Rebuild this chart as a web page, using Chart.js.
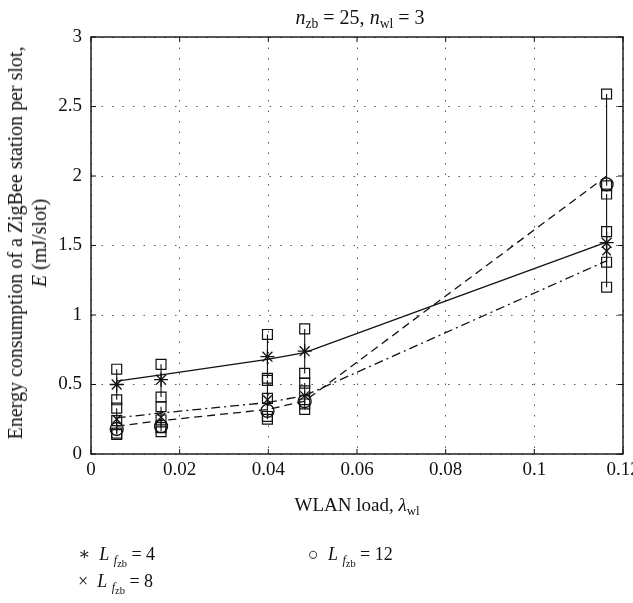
<!DOCTYPE html>
<html>
<head>
<meta charset="utf-8">
<script src="https://cdn.jsdelivr.net/npm/chart.js@4/dist/chart.umd.min.js"></script>
<style>
  body { margin: 0; background: #fff; }
  #wrap { position: relative; width: 633px; height: 603px; overflow: hidden;
          font-family: "Liberation Serif", "DejaVu Serif", serif; color: #111; }
  canvas { position: absolute; left: 0; top: 0; }
  .lbl { position: absolute; white-space: nowrap; font-size: 18px; line-height: 1; }
  .lbl sub { font-size: 68%; vertical-align: -0.3em; line-height: 0; }
  .lbl sub sub { font-size: 85%; }
  #ytitle { left: 27px; top: 243px; text-align: center; line-height: 24px; font-size: 20px;
            transform: translate(-50%, -50%) rotate(-90deg); }
</style>
</head>
<body>
<div id="wrap">
  <canvas id="chart" width="633" height="603"></canvas>
  <div class="lbl" id="title" style="left:360px; top:7px; font-size:20px; transform:translateX(-50%)"><i>n</i><sub>zb</sub> = 25, <i>n</i><sub>wl</sub> = 3</div>
  <div class="lbl" id="xtitle" style="left:357px; top:495px; font-size:19px; transform:translateX(-50%)">WLAN load, <i>λ</i><sub>wl</sub></div>
  <div class="lbl" id="ytitle">Energy consumption of a ZigBee station per slot,<br><i>E</i> (mJ/slot)</div>
  <div class="lbl" style="left:78px; top:545px">∗&nbsp; <i>L</i> <sub><i>f</i><sub>zb</sub></sub> = 4</div>
  <div class="lbl" style="left:78px; top:572px">×&nbsp; <i>L</i> <sub><i>f</i><sub>zb</sub></sub> = 8</div>
  <div class="lbl" style="left:308px; top:545px">○&nbsp; <i>L</i> <sub><i>f</i><sub>zb</sub></sub> = 12</div>
</div>
<script>
// ── Data ─────────────────────────────────────────────────────
const loads = [0.0058, 0.0158, 0.0398, 0.0482, 0.1163];

// analytical curves
const modelL4  = [0.525, 0.57, 0.68, 0.73, 1.525];
const modelL8  = [0.26, 0.295, 0.37, 0.42, 1.39];
const modelL12 = [0.20, 0.24, 0.32, 0.38, 2.00];

// simulation means and confidence bounds
const simL4   = [0.50, 0.535, 0.70, 0.74, 1.52];
const lowL4   = [0.39, 0.41, 0.545, 0.58, 1.38];
const upL4    = [0.61, 0.645, 0.86, 0.90, 1.60];

const simL8   = [0.25, 0.265, 0.39, 0.42, 1.46];
const lowL8   = [0.15, 0.19, 0.27, 0.36, 1.20];
const upL8    = [0.33, 0.34, 0.53, 0.51, 1.87];

const simL12  = [0.18, 0.20, 0.31, 0.38, 1.94];
const lowL12  = [0.14, 0.16, 0.25, 0.32, 1.93];
const upL12   = [0.24, 0.245, 0.40, 0.455, 2.59];

const xTickLabels = ['0', '0.02', '0.04', '0.06', '0.08', '0.1', '0.12'];
const yTickLabels = ['0', '0.5', '1', '1.5', '2', '2.5', '3'];

// ── Helpers ──────────────────────────────────────────────────
const INK = '#111';
const pts = ys => loads.map((x, i) => ({ x, y: ys[i] }));

function errorBars(lo, hi) {
  const out = [];
  loads.forEach((x, i) => {
    out.push({ x, y: lo[i] }, { x, y: hi[i] }, { x, y: null });
  });
  return out;
}

function modelLine(ys, dash) {
  return {
    data: pts(ys), showLine: true, borderColor: INK, borderWidth: 1.3,
    borderDash: dash, pointRadius: 0, fill: false,
  };
}

function barSet(lo, hi) {
  return {
    data: errorBars(lo, hi), showLine: true, spanGaps: false,
    borderColor: INK, borderWidth: 1.1,
    pointStyle: 'rect', pointRadius: 7, pointBorderWidth: 1.2,
    pointBorderColor: INK, pointBackgroundColor: 'rgba(255,255,255,0)',
  };
}

function meanSet(ys, style, r) {
  return {
    data: pts(ys), showLine: false, pointStyle: style, pointRadius: r,
    pointBorderColor: INK, pointBorderWidth: 1.3,
    pointBackgroundColor: 'rgba(255,255,255,0)',
  };
}

// frame + inward tick marks, matlab style
const framePlugin = {
  id: 'frame',
  afterDatasetsDraw(chart) {
    const { ctx, chartArea: a, scales: { x, y } } = chart;
    ctx.save();
    ctx.strokeStyle = INK;
    ctx.lineWidth = 1.4;
    ctx.strokeRect(a.left, a.top, a.right - a.left, a.bottom - a.top);
    ctx.lineWidth = 1;
    ctx.beginPath();
    x.ticks.forEach(t => {
      const px = x.getPixelForValue(t.value);
      ctx.moveTo(px, a.bottom); ctx.lineTo(px, a.bottom - 5);
      ctx.moveTo(px, a.top);    ctx.lineTo(px, a.top + 5);
    });
    y.ticks.forEach(t => {
      const py = y.getPixelForValue(t.value);
      ctx.moveTo(a.left, py);  ctx.lineTo(a.left + 5, py);
      ctx.moveTo(a.right, py); ctx.lineTo(a.right - 5, py);
    });
    ctx.stroke();
    ctx.restore();
  },
};

const tickFont = { family: '"Liberation Serif", "DejaVu Serif", serif', size: 19 };
const gridOpts = { color: '#555', lineWidth: 1, drawTicks: false };
const borderOpts = { display: false, dash: [1.5, 9] };

new Chart(document.getElementById('chart'), {
  type: 'scatter',
  data: {
    datasets: [
      meanSet(simL4, 'star', 7),
      meanSet(simL8, 'crossRot', 6),
      meanSet(simL12, 'circle', 6.5),
      barSet(lowL4, upL4),
      barSet(lowL8, upL8),
      barSet(lowL12, upL12),
      modelLine(modelL4, []),
      modelLine(modelL8, [9, 4, 2, 4]),
      modelLine(modelL12, [8, 5]),
    ],
  },
  options: {
    responsive: false,
    animation: false,
    layout: { padding: { top: 37, right: 10, left: 0, bottom: 0 } },
    plugins: { legend: { display: false }, tooltip: { enabled: false } },
    scales: {
      x: {
        min: 0, max: 0.12,
        ticks: {
          stepSize: 0.02, color: INK, font: tickFont, padding: 5, maxRotation: 0,
          callback: (v, i) => xTickLabels[i],
        },
        grid: gridOpts, border: borderOpts,
        afterFit: s => { s.height = 149; s.paddingLeft = 0; s.paddingRight = 0; },
      },
      y: {
        min: 0, max: 3,
        ticks: {
          stepSize: 0.5, color: INK, font: tickFont, padding: 9,
          callback: (v, i) => yTickLabels[i],
        },
        grid: gridOpts, border: borderOpts,
        afterFit: s => { s.width = 91; s.paddingTop = 0; s.paddingBottom = 0; },
      },
    },
  },
  plugins: [framePlugin],
});
</script>
</body>
</html>
